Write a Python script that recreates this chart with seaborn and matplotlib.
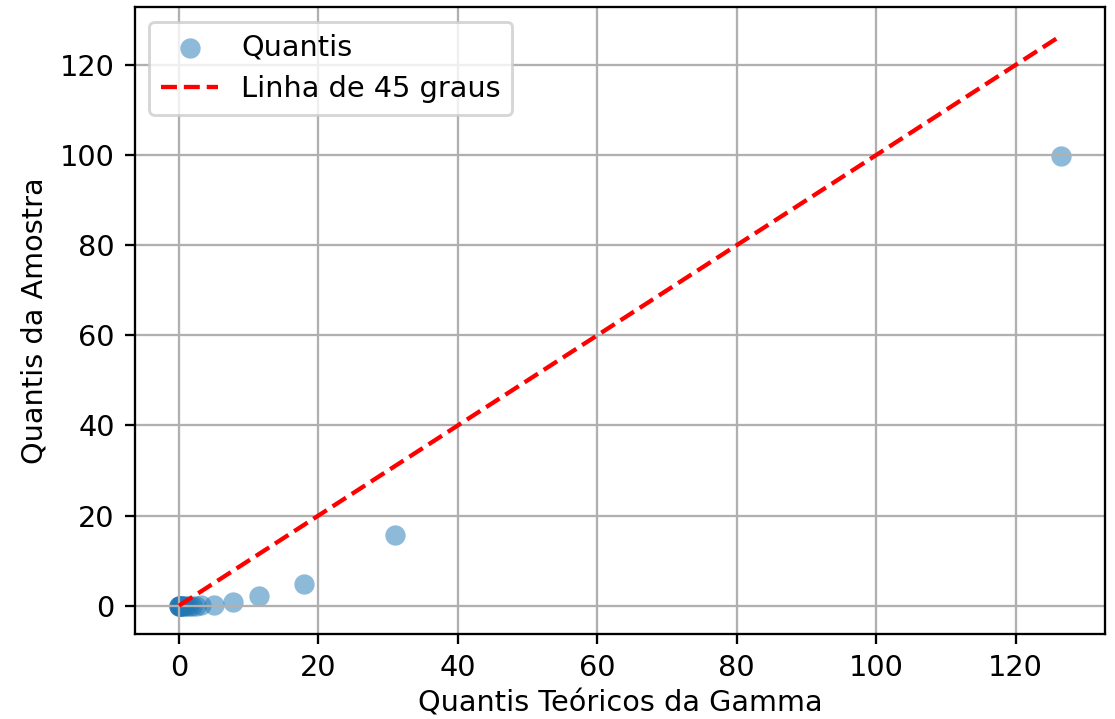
import matplotlib
matplotlib.use("Agg")
import matplotlib.pyplot as plt
import seaborn as sns
import numpy as np

# Theoretical gamma quantiles vs ordered sample quantiles
teoricos = [0.0, 0.02, 0.05, 0.1, 0.2, 0.35, 0.5, 0.75, 1.0, 1.4, 1.9, 2.5, 3.2,
            5.0, 7.7, 11.5, 17.9, 31.0, 126.5]
amostra = [0.0, 0.0, 0.0, 0.0, 0.0, 0.0, 0.0, 0.0, 0.0, 0.0, 0.0, 0.01, 0.05,
           0.2, 0.9, 2.2, 4.7, 15.6, 99.7]

DPI = 207
fig, ax = plt.subplots(figsize=(1115 / DPI, 719 / DPI), dpi=DPI)
fig.subplots_adjust(left=0.121, right=0.991, bottom=0.118, top=0.990)

sns.scatterplot(x=teoricos, y=amostra, ax=ax, alpha=0.5, s=50, linewidth=0,
                color="tab:blue", label="Quantis")
lo, hi = min(teoricos), max(teoricos)
ax.plot([lo, hi], [lo, hi], "r--", label="Linha de 45 graus")

ax.set_xlabel("Quantis Teóricos da Gamma", labelpad=2.5)
ax.set_ylabel("Quantis da Amostra")
ax.grid(True)
ax.legend(loc="upper left")

fig.savefig("out.png", dpi=DPI)
